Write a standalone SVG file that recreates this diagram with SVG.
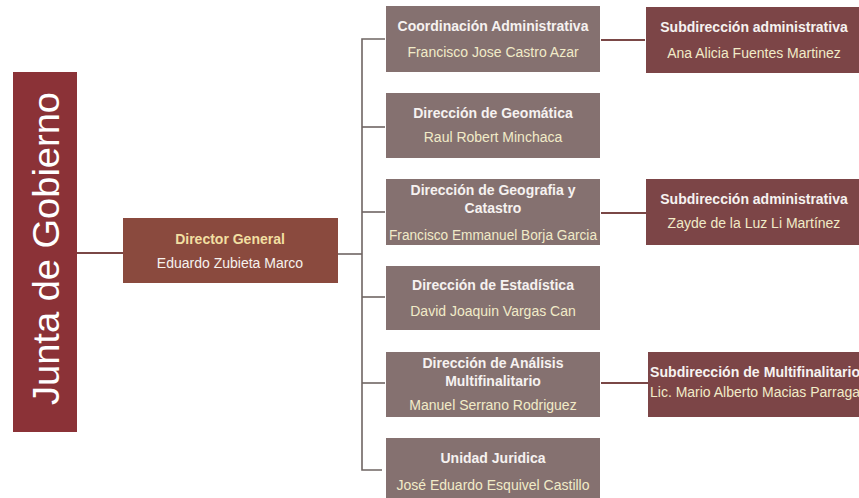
<svg xmlns="http://www.w3.org/2000/svg" width="859" height="498" viewBox="0 0 859 498">
<style>
.t{font-family:"Liberation Sans",Arial,sans-serif;text-anchor:middle}
.b{font-weight:bold;font-size:14px;fill:#f6f2f0}
.n{font-size:14px;fill:#f1ebc8}
.mid{fill:#857170}
.sub{fill:#7c4547}
.ln{fill:none;stroke:#6f6563;stroke-width:1.6}
.lr{fill:none;stroke:#7a4746;stroke-width:1.8}
</style>
<rect width="859" height="498" fill="#ffffff"/>
<g id="connectors">
<line class="lr" x1="77" y1="253" x2="123" y2="253" stroke="#8a5a52"/>
<polyline class="ln" points="338,254 362,254"/>
<polyline class="ln" points="385,39 362,39 362,470 382,470"/>
<line class="ln" x1="362" y1="127" x2="385" y2="127"/>
<line class="ln" x1="362" y1="212" x2="385" y2="212"/>
<line class="ln" x1="362" y1="297" x2="385" y2="297"/>
<line class="ln" x1="362" y1="383" x2="385" y2="383"/>
<line class="lr" x1="601" y1="40" x2="645" y2="40"/>
<line class="lr" x1="601" y1="213" x2="646" y2="213"/>
<line class="lr" x1="601" y1="383" x2="648" y2="383"/>
</g>
<g id="junta">
<rect x="13" y="72" width="64" height="360" fill="#8b3237"/>
<text class="t" transform="translate(59,248.5) rotate(-90)" font-size="37" fill="#ffffff" textLength="313" lengthAdjust="spacingAndGlyphs">Junta de Gobierno</text>
</g>
<g id="director">
<rect x="123" y="218" width="215" height="65" fill="#8a4a3e"/>
<text class="t b" x="230" y="244" style="fill:#f2dfa2">Director General</text>
<text class="t n" x="230" y="268" style="fill:#f6f2ee">Eduardo Zubieta Marco</text>
</g>
<g id="coordinacion">
<rect class="mid" x="386" y="6" width="214" height="66"/>
<text class="t b" x="493" y="31">Coordinación Administrativa</text>
<text class="t n" x="493" y="57">Francisco Jose Castro Azar</text>
</g>
<g id="geomatica">
<rect class="mid" x="386" y="93" width="214" height="65"/>
<text class="t b" x="493" y="118">Dirección de Geomática</text>
<text class="t n" x="493" y="142">Raul Robert Minchaca</text>
</g>
<g id="geografia">
<rect class="mid" x="386" y="179" width="214" height="66"/>
<text class="t b" x="493" y="195">Dirección de Geografia y</text>
<text class="t b" x="493" y="213">Catastro</text>
<text class="t n" x="493" y="240" textLength="208" lengthAdjust="spacingAndGlyphs">Francisco Emmanuel  Borja Garcia</text>
</g>
<g id="estadistica">
<rect class="mid" x="386" y="266" width="214" height="64"/>
<text class="t b" x="493" y="290">Dirección de Estadística</text>
<text class="t n" x="493" y="316">David Joaquin Vargas Can</text>
</g>
<g id="analisis">
<rect class="mid" x="386" y="352" width="214" height="65"/>
<text class="t b" x="493" y="368">Dirección de Análisis</text>
<text class="t b" x="493" y="386">Multifinalitario</text>
<text class="t n" x="493" y="410">Manuel Serrano Rodriguez</text>
</g>
<g id="juridica">
<rect class="mid" x="386" y="438" width="214" height="60"/>
<text class="t b" x="493" y="463">Unidad Juridica</text>
<text class="t n" x="493" y="490">José Eduardo Esquivel Castillo</text>
</g>
<g id="subadmin1">
<rect class="sub" x="646" y="7" width="220" height="66"/>
<text class="t b" x="754" y="32">Subdirección administrativa</text>
<text class="t n" x="754" y="58">Ana Alicia  Fuentes Martinez</text>
</g>
<g id="subadmin2">
<rect class="sub" x="646" y="179" width="220" height="66"/>
<text class="t b" x="754" y="204">Subdirección administrativa</text>
<text class="t n" x="754" y="228">Zayde de la Luz Li Martínez</text>
</g>
<g id="submulti">
<rect class="sub" x="648" y="352" width="220" height="65"/>
<text class="t b" x="755" y="377" textLength="210" lengthAdjust="spacingAndGlyphs">Subdirección de Multifinalitario</text>
<text class="t n" x="755" y="397" textLength="210" lengthAdjust="spacingAndGlyphs">Lic. Mario Alberto Macias Parraga</text>
</g>
</svg>
